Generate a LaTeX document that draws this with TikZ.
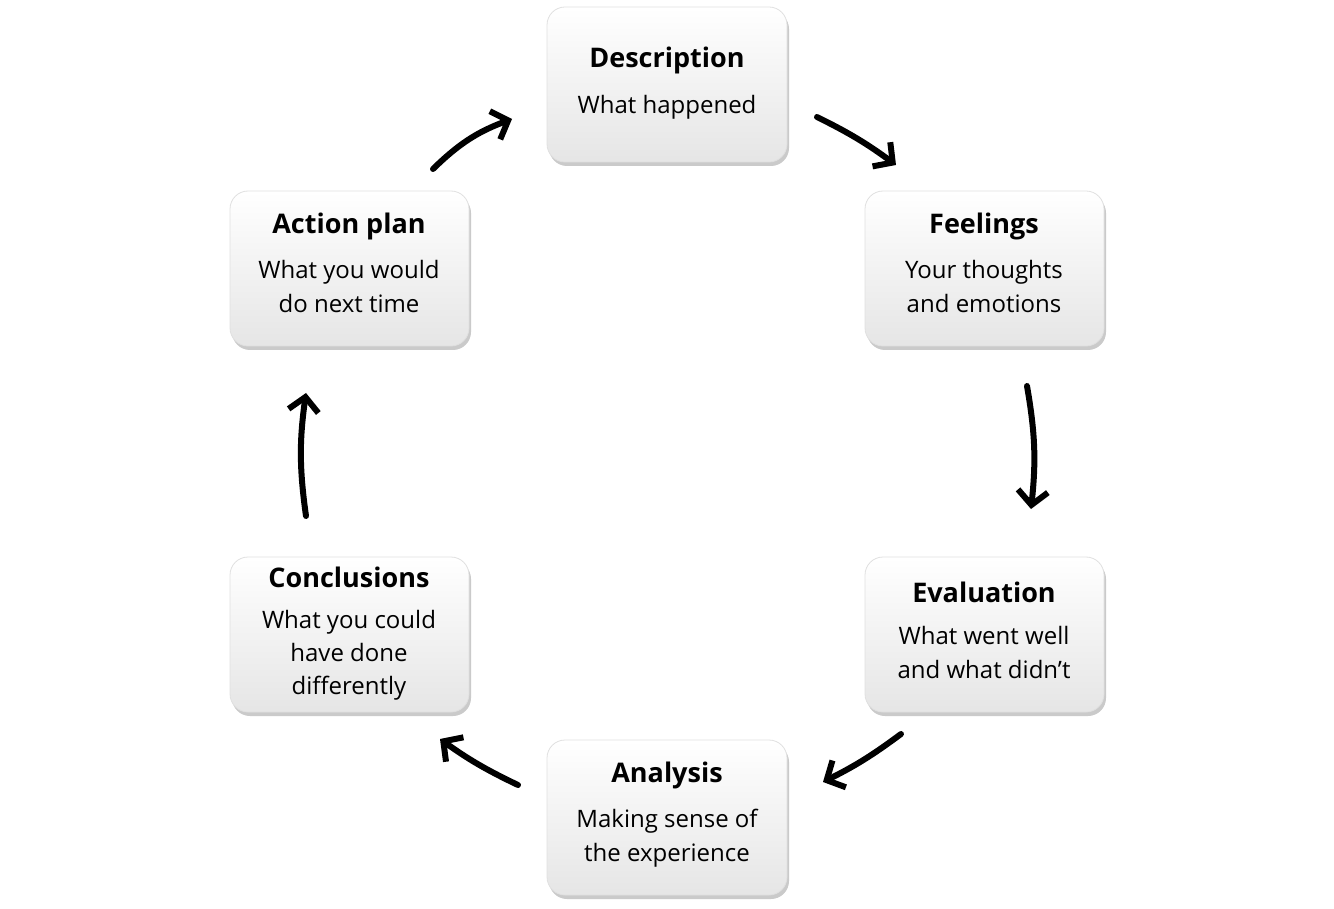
\documentclass[tikz,border=0pt]{standalone}
\usepackage{fontspec}
\setmainfont{Open Sans}
\usetikzlibrary{arrows.meta,shadows}
\begin{document}
\begin{tikzpicture}[x=1pt,y=-1pt,
 box/.style={draw=black!12,line width=0.8pt,rounded corners=18pt,top color=white,bottom color=black!10,drop shadow={shadow xshift=2pt,shadow yshift=-4pt,opacity=0.35,fill=black!60}},
 ttl/.style={font=\fontsize{27}{32}\selectfont\bfseries,anchor=center},
 bdy/.style={font=\fontsize{24}{34}\selectfont,align=center,anchor=north},
 arr/.style={line width=6pt,line cap=round,-{Straight Barb[length=14pt,width=30pt,line width=6pt]}}]
\useasboundingbox (0,0) rectangle (1334,909);
\path[box] (547,7) rectangle (787,162) node[pos=0,name=bD]{};
\path[box] (865,191) rectangle (1104,346);
\path[box] (865,557) rectangle (1104,712);
\path[box] (547,740) rectangle (787,895);
\path[box] (230,557) rectangle (469,712);
\path[box] (230,191) rectangle (469,346);
\node[ttl] (tD) at (667,60) {Description};
\node[bdy] (bD2) at (667,92) {What happened};
\node[ttl] (tF) at (984,226) {Feelings};
\node[bdy] (bF) at (984,257) {Your thoughts\\and emotions};
\node[ttl] (tE) at (984,592) {Evaluation};
\node[bdy] (bE) at (984,623) {What went well\\and what didn't};
\node[ttl] (tA) at (667,775) {Analysis};
\node[bdy] (bA) at (667,806) {Making sense of\\the experience};
\node[ttl] (tC) at (349,577) {Conclusions};
\node[bdy,font=\fontsize{24}{33}\selectfont] (bC) at (349,607) {What you could\\have done\\differently};
\node[ttl] (tP) at (349,226) {Action plan};
\node[bdy] (bP) at (349,257) {What you would\\do next time};
\coordinate (a1) at (433,169); \coordinate (a2) at (512,119);
\coordinate (b1) at (817,117); \coordinate (b2) at (896,165);
\coordinate (c1) at (1027,386); \coordinate (c2) at (1031,509);
\coordinate (d1) at (901,734); \coordinate (d2) at (823,782);
\coordinate (e1) at (518,785); \coordinate (e2) at (440,739);
\coordinate (f1) at (306,516); \coordinate (f2) at (306,393);
\draw[arr] (a1) to[bend left=12] (a2);
\draw[arr] (b1) to[bend left=5] (b2);
\draw[arr] (c1) to[bend left=8] (c2);
\draw[arr] (d1) to[bend left=5] (d2);
\draw[arr] (e1) to[bend left=5] (e2);
\draw[arr] (f1) to[bend left=8] (f2);
\end{tikzpicture}
\end{document}
